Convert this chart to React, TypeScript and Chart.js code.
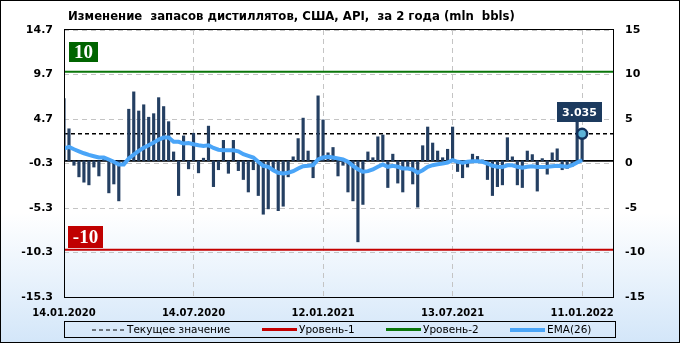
import React, { useEffect, useRef } from 'react';
import { Chart, registerables } from 'chart.js';

Chart.register(...registerables);

// ---- data ----
const titleText = 'Изменение  запасов дистиллятов, США, API,  за 2 года (mln  bbls)';
const xTickLabels = ['14.01.2020', '14.07.2020', '12.01.2021', '13.07.2021', '11.01.2022'];
const xTickWeeks = [0, 26, 52, 78, 104];
const xWeeksMax = 110.2;
const leftTicks = [-15.3, -10.3, -5.3, -0.3, 4.7, 9.7, 14.7];
const rightMin = -15;
const rightMax = 15;

const weeklyChange = [
  7.0, 3.6, -0.5, -1.8, -2.4, -2.7, -0.7, -1.7, 0.2, -3.6,
  -2.6, -4.5, -0.3, 5.8, 7.75, 5.6, 6.3, 4.9, 5.3, 7.1,
  6.1, 4.4, 1.0, -3.9, 2.8, -0.9, 3.1, -1.35, 0.3, 3.9,
  -2.9, -1.0, 2.3, -1.4, 2.3, -1.1, -2.1, -3.5, -1.0, -3.9,
  -6.0, -5.4, -0.9, -5.6, -5.1, -1.8, 0.45, 2.5, 4.8, 1.1,
  -1.9, 7.3, 4.6, 0.9, 1.5, -1.7, -0.5, -3.5, -4.5, -9.1,
  -4.9, 1.0, 0.35, 2.7, 2.9, -3.0, 0.75, -2.5, -3.5, -0.8,
  -2.6, -5.2, 1.7, 3.8, 2.0, 1.1, 0.35, 1.3, 3.8, -1.2,
  -1.9, -0.7, 0.75, 0.5, 0.1, -2.1, -3.9, -2.9, -2.7, 2.6,
  0.45, -2.7, -3.0, 1.1, 0.7, -3.4, 0.25, -1.5, 0.9, 1.35,
  -1.0, -0.85, -0.6, 5.0, 3.035,
];

const ema26 = [
  1.38, 1.57, 1.3, 1.07, 0.85, 0.67, 0.52, 0.37, 0.37, 0.15,
  -0.11, -0.41, -0.41, 0.26, 0.7, 1.12, 1.46, 1.75, 2.05, 2.39,
  2.61, 2.61, 2.13, 2.13, 1.94, 2.0, 1.86, 1.75, 1.68, 1.75,
  1.45, 1.25, 1.19, 1.2, 1.19, 1.07, 0.74, 0.56, 0.37, -0.11,
  -0.56, -0.67, -1.05, -1.34, -1.42, -1.34, -1.16, -0.86, -0.6, -0.56,
  -0.49, 0.15, 0.37, 0.45, 0.37, 0.26, 0.15, -0.11, -0.56, -0.94,
  -1.23, -1.16, -0.97, -0.67, -0.41, -0.67, -0.56, -0.67, -0.86, -0.86,
  -0.97, -1.34, -1.05, -0.67, -0.49, -0.38, -0.3, -0.19, 0.07, -0.11,
  -0.22, -0.11, -0.04, -0.04, -0.11, -0.3, -0.56, -0.67, -0.7, -0.5,
  -0.5, -0.67, -0.78, -0.67, -0.6, -0.7, -0.7, -0.67, -0.6, -0.56,
  -0.6, -0.67, -0.49, -0.19, 0.07,
];

const currentValue = 3.035;
const level1 = -10;
const level2 = 10;

const legendItems = ['Текущее значение', 'Уровень-1', 'Уровень-2', 'EMA(26)'];

// ---- styles ----
const BAR = '#243f62';
const EMA = '#4aa5f8';
const RED = '#c40000';
const GREEN = '#0a760a';
const GRID = '#c4c4c4';
const TICK_FONT = { family: 'DejaVu Sans', size: 11, weight: 'bold' as const };
const DATE_FONT = { family: 'DejaVu Sans', size: 10, weight: 'bold' as const };

const overlayPlugin = {
  id: 'overlay',
  afterDatasetsDraw(chart: any) {
    const { ctx, chartArea: a, scales } = chart;
    const xs = scales.x;
    const ys = scales.y;
    ctx.save();
    ctx.strokeStyle = '#000';
    ctx.lineWidth = 1;
    ctx.setLineDash([]);
    ctx.strokeRect(a.left + 0.5, a.top - 0.5, a.right - a.left, a.bottom - a.top + 1);

    const box = (text: string, bg: string, left: number, bottom: number, h: number, font: string, pad: number, centerX?: number) => {
      ctx.font = font;
      const w = Math.round(ctx.measureText(text).width + pad * 2);
      const l = centerX !== undefined ? Math.round(centerX - w / 2) : left;
      ctx.fillStyle = bg;
      ctx.fillRect(l, Math.round(bottom - h), w, h);
      ctx.fillStyle = '#fff';
      ctx.textAlign = 'center';
      ctx.textBaseline = 'middle';
      ctx.fillText(text, l + w / 2, Math.round(bottom - h / 2) + 1);
    };

    const serif = "bold 19px 'Liberation Serif', 'DejaVu Serif', serif";
    box(String(level2), '#006400', a.left + 5, ys.getPixelForValue(level2) - 10, 20, serif, 5);
    box(String(level1), '#c00000', a.left + 4, ys.getPixelForValue(level1) - 2, 22, serif, 5);

    const lastIdx = weeklyChange.length - 1;
    const px = xs.getPixelForValue(lastIdx);
    const py = ys.getPixelForValue(currentValue);
    box(currentValue.toFixed(3), '#1c3a5e', 0, py - 12, 20, "bold 11px 'DejaVu Sans'", 5, px - 3);
    ctx.restore();
  },
};

export default function App() {
  const canvasRef = useRef<HTMLCanvasElement>(null);

  useEffect(() => {
    document.body.style.margin = '0';
    const lastIdx = weeklyChange.length - 1;
    const hline = (y: number) => [{ x: 0, y }, { x: xWeeksMax, y }];
    const chart = new Chart(canvasRef.current as HTMLCanvasElement, {
      type: 'bar',
      data: {
        datasets: [
          {
            type: 'line' as const,
            label: 'marker',
            data: [{ x: lastIdx, y: currentValue }],
            showLine: false,
            pointRadius: 5,
            pointBorderWidth: 2.5,
            pointBackgroundColor: '#5db4d8',
            pointBorderColor: '#11305a',
            order: -1,
          },
          {
            type: 'line' as const,
            label: legendItems[3],
            data: ema26.map((y, i) => ({ x: i, y })),
            borderColor: EMA,
            borderWidth: 4,
            pointRadius: 0,
            tension: 0,
            order: 0,
          },
          {
            type: 'bar' as const,
            label: 'bars',
            data: weeklyChange.map((y, i) => ({ x: i, y })),
            backgroundColor: BAR,
            barThickness: 2.5,
            order: 2,
          },
          {
            type: 'line' as const,
            label: 'zero',
            data: hline(0),
            borderColor: '#000',
            borderWidth: 1.6,
            pointRadius: 0,
            order: 3,
          },
          {
            type: 'line' as const,
            label: legendItems[0],
            data: hline(currentValue),
            borderColor: '#000',
            borderWidth: 1.4,
            borderDash: [4, 3],
            pointRadius: 0,
            order: 4,
          },
          {
            type: 'line' as const,
            label: legendItems[1],
            data: hline(level1),
            borderColor: RED,
            borderWidth: 2,
            pointRadius: 0,
            order: 5,
          },
          {
            type: 'line' as const,
            label: legendItems[2],
            data: hline(level2),
            borderColor: GREEN,
            borderWidth: 2,
            pointRadius: 0,
            order: 6,
          },
        ],
      },
      options: {
        responsive: false,
        animation: false,
        devicePixelRatio: 1,
        events: [],
        layout: { padding: { top: 30, left: 0, right: 0, bottom: 0 } },
        plugins: {
          legend: { display: false },
          tooltip: { enabled: false },
          title: { display: false },
        },
        scales: {
          x: {
            type: 'linear',
            min: 0,
            max: xWeeksMax,
            offset: false,
            grid: { offset: false, color: GRID, lineWidth: 1, drawTicks: false },
            border: { display: false, dash: [5, 4] },
            afterBuildTicks: (axis: any) => {
              axis.ticks = xTickWeeks.map((v) => ({ value: v }));
            },
            afterFit: (axis: any) => {
              axis.height = 46;
            },
            ticks: {
              autoSkip: false,
              maxRotation: 0,
              padding: 10,
              color: '#000',
              font: DATE_FONT,
              callback: (v: any) => xTickLabels[xTickWeeks.indexOf(Number(v))] ?? '',
            },
          },
          y: {
            type: 'linear',
            position: 'left',
            min: leftTicks[0],
            max: leftTicks[leftTicks.length - 1],
            grid: { color: GRID, lineWidth: 1, drawTicks: false },
            border: { display: false, dash: [5, 4] },
            afterBuildTicks: (axis: any) => {
              axis.ticks = leftTicks.map((v) => ({ value: v }));
            },
            afterFit: (axis: any) => {
              axis.width = 64;
            },
            ticks: {
              padding: 11,
              color: '#000',
              font: TICK_FONT,
              callback: (v: any) => Number(v).toFixed(1),
            },
          },
          y2: {
            type: 'linear',
            position: 'right',
            min: rightMin,
            max: rightMax,
            grid: { display: false, drawTicks: false },
            border: { display: false },
            afterFit: (axis: any) => {
              axis.width = 67;
            },
            ticks: {
              stepSize: 5,
              padding: 12,
              color: '#000',
              font: TICK_FONT,
              callback: (v: any) => String(v),
            },
          },
        },
      },
      plugins: [overlayPlugin],
    } as any);
    return () => chart.destroy();
  }, []);

  const legendText: React.CSSProperties = {
    position: 'absolute',
    top: 0,
    height: 15,
    lineHeight: '15px',
    fontFamily: "'DejaVu Sans'",
    fontSize: 10.5,
    color: '#000',
    whiteSpace: 'pre',
  };
  const swatch = (left: number, color: string, h: number): React.CSSProperties => ({
    position: 'absolute',
    left,
    top: 7.5 - h / 2,
    width: 35,
    height: h,
    background: color,
  });

  return (
    <div
      style={{
        position: 'relative',
        width: 680,
        height: 343,
        overflow: 'hidden',
        background: 'linear-gradient(to bottom, #ffffff 0%, #ffffff 62%, #d3e6f9 100%)',
      }}
    >
      <canvas
        ref={canvasRef}
        width={680}
        height={343}
        style={{ position: 'absolute', left: 0, top: 0, width: 680, height: 343 }}
      />
      <div
        style={{
          position: 'absolute',
          left: 68,
          top: 11,
          fontFamily: "'DejaVu Sans'",
          fontWeight: 'bold',
          fontSize: 11.7,
          lineHeight: 1,
          whiteSpace: 'pre',
          color: '#000',
        }}
      >
        {titleText}
      </div>
      <div
        style={{
          position: 'absolute',
          left: 64,
          top: 321,
          width: 552,
          height: 17,
          boxSizing: 'border-box',
          border: '1px solid #000',
        }}
      >
        <svg style={{ position: 'absolute', left: 27, top: 7 }} width={32} height={2}>
          <line x1={0} y1={1} x2={32} y2={1} stroke="#000" strokeWidth={1} strokeDasharray="4,3" />
        </svg>
        <div style={{ ...legendText, left: 62 }}>{legendItems[0]}</div>
        <div style={swatch(197, RED, 3)} />
        <div style={{ ...legendText, left: 234 }}>{legendItems[1]}</div>
        <div style={swatch(321, GREEN, 3)} />
        <div style={{ ...legendText, left: 358 }}>{legendItems[2]}</div>
        <div style={swatch(445, EMA, 4)} />
        <div style={{ ...legendText, left: 482 }}>{legendItems[3]}</div>
      </div>
      <div
        style={{
          position: 'absolute',
          left: 0,
          top: 0,
          width: 680,
          height: 343,
          boxSizing: 'border-box',
          border: '1px solid #000',
          pointerEvents: 'none',
        }}
      />
    </div>
  );
}
